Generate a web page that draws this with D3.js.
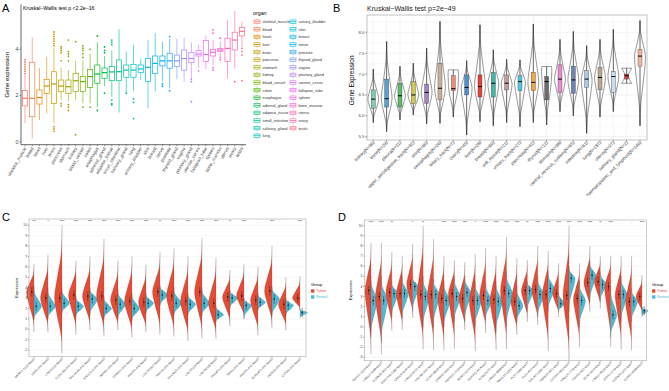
<!DOCTYPE html>
<html><head><meta charset="utf-8">
<script src="https://cdn.jsdelivr.net/npm/d3@7"></script>
<style>body{margin:0;background:#fff}svg{display:block}text{font-family:"Liberation Sans",Arial,sans-serif}</style>
</head><body><svg id="c" width="669" height="391"></svg>
<script>
// ---------------- Panel A data ----------------
const organs=["skeletal_muscle","blood","heart","liver","brain","pancreas","stomach","kidney","blood_vessel","colon","esophagus","adrenal_gland","adipose_tissue","small_intestine","salivary_gland","lung","urinary_bladder","skin","breast","nerve","prostate","thyroid_gland","vagina","pituitary_gland","uterine_cervix","fallopian_tube","spleen","bone_marrow","uterus","ovary","testis"];
const aLo =[0.8,0.14,0.94,1.23,0.8,1.8,1.75,1.8,1.66,1.66,1.5,2.4,1.95,1.26,2.1,2.2,2.67,1.44,2.17,2.6,2.3,2.7,2.6,2.7,3.2,3.15,3.3,3.7,2.74,3.17,4.1];
const aQ1 =[1.55,1.08,1.63,2.09,1.66,2.17,2.09,2.17,2.17,2.35,2.53,2.74,2.64,2.64,2.79,2.79,3.0,2.6,2.96,3.28,3.18,3.25,3.1,3.42,3.71,3.47,3.71,3.9,3.47,3.97,4.58];
const aMed=[1.88,1.88,1.91,2.41,2.5,2.41,2.38,2.64,2.6,2.82,2.93,2.99,3.02,3.03,3.1,3.1,3.15,3.22,3.39,3.5,3.5,3.5,3.6,3.6,3.8,3.78,3.87,3.97,4.04,4.4,4.78];
const aQ3 =[2.21,3.44,2.24,2.7,3.03,2.67,2.67,2.96,2.82,3.13,3.32,3.19,3.25,3.54,3.32,3.35,3.32,3.6,3.71,3.71,3.83,3.75,3.97,3.86,3.94,4.38,4.0,4.04,4.48,4.74,4.94];
const aHi =[2.9,4.52,3.18,3.68,4.05,3.2,3.1,3.5,3.5,3.8,4.3,3.7,3.95,4.87,3.9,4.2,3.6,4.4,4.7,4.33,4.45,4.45,4.5,4.3,4.2,4.6,4.4,4.33,5.27,5.65,5.2];
const aOut=[[2.95,3.05,3.15,3.25,3.35,3.45,3.55],[],[],[],[4.15,4.25,4.35,4.45,4.55,4.65,4.75,0.45,0.55,0.65],[3.85,3.95,4.05,4.12,3.5,1.55,1.65],[4.4,3.9,3.8,3.7,3.5,1.35,1.5,1.6],[4.33,0.3],[4.15,4.05,3.95,3.8,3.65,1.5],[4.0,1.5],[4.58,1.35],[4.1,3.95,3.85,2.1],[4.4,4.3,4.2,1.8,1.65,1.6],[],[2.1],[1.85,1.7,1.0],[],[],[],[2.5,2.4],[4.55,2.2],[],[],[2.7,2.6,1.73],[3.07],[],[4.84,4.7,3.2,3.1],[4.48,3.65,3.55],[],[2.6],[4.04,3.9,3.75,2.64]];
const aYTicks=[0,2,4];

// ---------------- Panel B data ----------------
const bCats=["kidney(N=36)","bone(N=29)","pleura(N=11)","upper_aerodigestive_tract(N=32)","skin(N=60)","oesophagus(N=26)","biliary_tract(N=7)","ovary(N=45)","liver(N=28)","breast(N=60)","soft_tissue(N=21)","urinary_tract(N=27)","pancreas(N=42)","thyroid(N=12)","stomach(N=38)","central_nervous_system(N=65)","intestine(N=61)","lung(N=187)","uterus(N=27)","salivary_gland(N=2)","haematopoietic_and_lymphoid(N=140)"];
const bMin=[5.84,5.62,5.90,6.02,5.81,5.82,5.97,5.54,5.86,5.76,5.84,5.74,5.84,5.78,6.10,6.00,5.58,5.97,6.10,6.78,5.76];
const bQ1 =[6.18,6.21,6.21,6.29,6.30,6.38,6.60,6.50,6.45,6.45,6.62,6.60,6.60,6.38,6.56,6.54,6.68,6.62,6.56,6.88,7.19];
const bMed=[6.40,6.41,6.48,6.50,6.56,6.66,6.65,6.68,6.70,6.78,6.78,6.82,6.80,6.82,6.88,6.86,6.88,6.92,6.94,6.96,7.43];
const bQ3 =[6.62,6.88,6.78,6.82,6.76,7.26,6.96,6.98,6.98,7.04,6.98,6.96,7.04,6.94,7.22,7.19,7.08,7.16,7.06,7.00,7.59];
const bMax=[7.12,7.78,7.19,7.26,7.62,8.26,7.10,7.32,8.18,7.58,7.35,7.34,8.20,7.18,7.83,8.02,7.68,7.83,8.07,7.14,8.28];
const bColors=["#7ccbb3","#5b9fd4","#5dbb6e","#cdc84e","#a283c7","#c6b29c","#f28a78","#4f8fcb","#e3433c","#3cb8a5","#c49c9a","#4ec8d8","#f5a340","#6b6b6b","#e98ccd","#6f86b5","#a9cbe8","#baa794","#c9ddf0","#e03b3b","#f6b3a0"];
const bYTicks=[5.5,6.0,6.5,7.0,7.5,8.0];

// ---------------- Panel C data ----------------
const cGenes=["GMNC1-1233-NeuG","USP2-AS1-NeuG","LINC01133-NeuG","CCDC183-AS1-NeuG","BHLHE40-AS1-NeuG","ERCC6L2-AS1-NeuG","INPP5F-AS1-NeuG","STARD7-AS1-NeuG","PAXIP1-AS2-NeuG","LOC101927-NeuG","HNF1A-AS1-NeuG","MYCNOS-AS1-NeuG","LINC01234-NeuG","LINC00638-NeuG","THCAT1-AS1-NeuG","TMPO-AS1-NeuG","PAXIP1-AS1-NeuG","BLACAT1-AS1-NeuG","ZNF503-AS1-NeuG","CYTOR-AS1-NeuG"];
const cTumor=[[-0.3,6.3,3.6],[-0.3,7.2,3.0],[-2.3,10.0,3.0],[-0.5,6.6,3.3],[-0.1,7.0,3.2],[-0.7,8.7,3.2],[-0.1,6.6,2.8],[-0.8,7.0,2.7],[-0.3,6.2,2.6],[-0.5,7.4,3.6],[-0.7,7.8,3.2],[-1.1,7.0,2.7],[-0.9,8.8,3.6],[-0.9,6.9,2.5],[0.3,5.7,3.1],[1.0,6.3,3.2],[-0.6,6.0,2.8],[0.1,8.0,3.7],[-0.1,5.0,2.4],[1.8,5.1,3.0]];
const cNormal=[[0.9,4.2,2.2],[1.0,4.0,2.2],[1.5,4.0,2.5],[1.2,3.2,2.2],[1.3,4.0,2.9],[1.0,3.2,2.0],[1.0,3.8,2.4],[0.8,3.5,2.0],[1.5,3.5,2.5],[2.2,4.3,3.3],[1.3,4.0,2.5],[1.3,3.5,2.4],[1.3,4.0,2.5],[0.7,2.3,1.4],[2.0,3.8,3.0],[1.0,3.0,2.3],[1.8,3.5,2.6],[1.2,4.2,2.9],[1.3,3.0,2.3],[1.1,2.0,1.6]];
const cSig=["***","*","****","****","****","****","****","****","****","**","****","****","****","****","**","****","-","****",".","****"];
const cYTicks=[-2,-1,0,1,2,3,4,5,6,7,8,9,10];

// ---------------- Panel D data ----------------
const dGenes=["SNHG1-1233-NeuT","LINC01-4398-NeuT","CDKN2B-AS1-NeuT","MIR17HG-1380-NeuG","CASC9-4230-NeuT","LINC00-8721-NeuT","DSCAM-AS1-NeuG","CCAT1-8865-NeuT","CRNDE-4460-NeuT","SNHG16-1723-NeuT","NEAT1-3214-NeuT","HOXA11-AS-NeuG","KCNQ1OT1-NeuT","LINC00-4988-NeuT","SNHG15-2254-NeuG","PVT1-6680-NeuT","DLX6-AS1-NeuT","MALAT1-3387-NeuT","FAM83H-AS1-NeuT","CYTOR-4452-NeuT","HAGLR-7719-NeuT","FOXD2-AS1-NeuT","UCA1-6624-NeuT","LINC01-5530-NeuT","ZFAS1-3779-NeuT","HOTAIR-2261-NeuT","CCAT2-4448-NeuT"];
const dTumor=[[-2.7,8.3,3.6],[-2.7,8.3,3.0],[-0.4,7.4,3.4],[-0.3,7.0,3.3],[0.9,8.2,4.2],[-2.2,10.0,3.2],[-2.3,8.7,3.2],[-2.3,7.0,2.8],[-2.2,6.6,3.3],[-0.3,6.4,2.8],[-2.4,7.2,2.6],[-0.6,7.8,3.1],[-2.3,7.0,2.7],[-2.2,8.9,3.6],[-0.8,6.8,2.5],[0.5,6.6,3.6],[0.2,8.0,3.7],[-2.4,7.5,3.2],[1.0,6.3,3.3],[-3.3,10.0,3.1],[-2.0,6.3,2.8],[1.5,8.0,4.4],[1.8,7.0,4.5],[-2.0,7.0,4.0],[-2.2,7.0,3.2],[-2.3,7.0,2.5],[1.2,5.1,3.0]];
const dNormal=[[-1.0,5.0,2.6],[-1.5,5.0,2.6],[1.0,4.5,3.3],[0.8,5.0,3.3],[1.5,5.0,4.0],[0.0,5.0,3.0],[0.0,4.8,3.2],[0.0,4.5,2.6],[0.5,5.0,3.0],[0.5,5.0,3.4],[0.0,4.5,2.6],[0.7,4.5,2.6],[-0.5,4.5,2.5],[0.0,5.5,3.3],[0.5,4.0,2.1],[1.5,4.5,3.6],[1.0,5.0,3.2],[1.5,5.5,3.8],[1.5,3.5,2.3],[1.5,6.0,4.8],[0.0,4.5,2.6],[2.5,6.5,5.1],[2.5,5.5,4.2],[-1.0,4.0,1.2],[0.5,5.0,3.2],[0.5,3.8,2.5],[1.0,2.0,1.6]];
const dSig=["****","****","**",".","*","**",".","****","****","****","*","****","****","****","****","**","****","****","****","****","****","****","**","****",".",".","****"];
const dYTicks=[-3,-2,-1,0,1,2,3,4,5,6,7,8,9,10];

const groups=["Tumor","Normal"];
const groupColors=["#E64B35","#4DBBD5"];

// ---------- helpers ----------
function hclR(h,c,l){ // R polarLUV -> sRGB hex
  const Xn=95.047,Yn=100,Zn=108.883;
  const un=4*Xn/(Xn+15*Yn+3*Zn), vn=9*Yn/(Xn+15*Yn+3*Zn);
  const hr=h*Math.PI/180, u=c*Math.cos(hr), v=c*Math.sin(hr);
  const Y=l>8?Yn*Math.pow((l+16)/116,3):Yn*l/903.3;
  const up=u/(13*l)+un, vp=v/(13*l)+vn;
  const X=9*Y*up/(4*vp), Z=-X/3-5*Y+3*Y/vp;
  const x=X/100,y=Y/100,z=Z/100;
  let r=3.2404542*x-1.5371385*y-0.4985314*z, g=-0.969266*x+1.8760108*y+0.041556*z, b=0.0556434*x-0.2040259*y+1.0572252*z;
  const gam=t=>{t=t<=0.0031308?12.92*t:1.055*Math.pow(t,1/2.4)-0.055;return Math.max(0,Math.min(1,t));};
  return d3.rgb(gam(r)*255,gam(g)*255,gam(b)*255).formatHex();
}
const svg=d3.select("#c");
svg.append("rect").attr("width",669).attr("height",391).attr("fill","#fff");
function letter(t,x,y){svg.append("text").attr("x",x).attr("y",y).attr("font-size",11).attr("fill","#000").text(t);}

// ================= Panel A =================
{
  const g=svg.append("g");
  const x=d3.scalePoint().domain(organs).range([25,242]);
  const y=d3.scaleLinear().domain([0,4]).range([141.7,49.3]);
  const hues=organs.map((o,i)=>15+i*360/31);
  const col=hues.map(h=>hclR(h,100,65));
  const bw=5.2;
  g.append("line").attr("x1",21).attr("x2",21).attr("y1",y(5.95)).attr("y2",y(-0.13)).attr("stroke","#000").attr("stroke-width",0.6);
  g.append("line").attr("x1",21).attr("x2",246).attr("y1",y(-0.13)).attr("y2",y(-0.13)).attr("stroke","#000").attr("stroke-width",0.6);
  aYTicks.forEach(t=>{
    g.append("line").attr("x1",19.5).attr("x2",21).attr("y1",y(t)).attr("y2",y(t)).attr("stroke","#333").attr("stroke-width",0.5);
    g.append("text").attr("x",18.5).attr("y",y(t)+1.8).attr("text-anchor","end").attr("font-size",5.5).attr("fill","#4d4d4d").text(t);
  });
  g.append("text").attr("transform",`translate(9,${y(2.9)}) rotate(-90)`).attr("text-anchor","middle").attr("font-size",6).text("Gene expression");
  g.append("text").attr("x",23).attr("y",9.5).attr("font-size",5.2).text("Kruskal\u2212Wallis test p <2.2e\u221216");
  organs.forEach((o,i)=>{
    const cx=x(o), c=col[i];
    g.append("line").attr("x1",cx).attr("x2",cx).attr("y1",y(aHi[i])).attr("y2",y(aQ3[i])).attr("stroke",c).attr("stroke-width",0.6);
    g.append("line").attr("x1",cx).attr("x2",cx).attr("y1",y(aQ1[i])).attr("y2",y(aLo[i])).attr("stroke",c).attr("stroke-width",0.6);
    g.append("rect").attr("x",cx-bw/2).attr("y",y(aQ3[i])).attr("width",bw).attr("height",y(aQ1[i])-y(aQ3[i])).attr("fill","#fff").attr("stroke",c).attr("stroke-width",0.7);
    g.append("line").attr("x1",cx-bw/2).attr("x2",cx+bw/2).attr("y1",y(aMed[i])).attr("y2",y(aMed[i])).attr("stroke",c).attr("stroke-width",1.2);
    aOut[i].forEach(v=>g.append("circle").attr("cx",cx).attr("cy",y(v)).attr("r",0.9).attr("fill",c));
    g.append("line").attr("x1",cx).attr("x2",cx).attr("y1",y(-0.13)).attr("y2",y(-0.13)+1.5).attr("stroke","#333").attr("stroke-width",0.5);
    g.append("text").attr("transform",`translate(${cx+1.5},${y(-0.13)+3.5}) rotate(-60)`).attr("text-anchor","end").attr("font-size",4.6).attr("fill","#4d4d4d").text(o);
  });
  const lg=g.append("g");
  lg.append("text").attr("x",253).attr("y",15).attr("font-size",5.3).text("organ");
  organs.forEach((o,i)=>{
    const colIdx=i<16?0:1, row=i<16?i:i-16;
    const kx=colIdx?290:254, ky=21.7+row*7.6;
    lg.append("line").attr("x1",kx+3).attr("x2",kx+3).attr("y1",ky-3).attr("y2",ky+3).attr("stroke",col[i]).attr("stroke-width",0.5);
    lg.append("rect").attr("x",kx).attr("y",ky-1.7).attr("width",6).attr("height",3.4).attr("fill","#fff").attr("stroke",col[i]).attr("stroke-width",0.6);
    lg.append("line").attr("x1",kx).attr("x2",kx+6).attr("y1",ky).attr("y2",ky).attr("stroke",col[i]).attr("stroke-width",0.8);
    lg.append("text").attr("x",kx+8.5).attr("y",ky+1.5).attr("font-size",3.9).attr("fill","#333").text(o);
  });
  letter("A",2,12);
}

// ================= Panel B =================
{
  const g=svg.append("g");
  const L=367,R=647,T=15,B=140;
  const x=d3.scalePoint().domain(bCats).range([373.3,640]);
  const y=d3.scaleLinear().domain([5.5,8.0]).range([136.7,32.3]);
  g.append("rect").attr("x",L).attr("y",T).attr("width",R-L).attr("height",B-T).attr("fill","#fff");
  d3.range(5.25,8.5,0.25).forEach(v=>{ if(y(v)>T&&y(v)<B) g.append("line").attr("x1",L).attr("x2",R).attr("y1",y(v)).attr("y2",y(v)).attr("stroke",Math.abs(v*2-Math.round(v*2))<1e-6?"#e6e6e6":"#f3f3f3").attr("stroke-width",0.5);});
  bCats.forEach(c=>g.append("line").attr("x1",x(c)).attr("x2",x(c)).attr("y1",T).attr("y2",B).attr("stroke","#e6e6e6").attr("stroke-width",0.5));
  const hw=5.4;
  const line=d3.line().curve(d3.curveCatmullRom.alpha(0.5));
  bCats.forEach((c,i)=>{
    const cx=x(c), lo=bMin[i], hi=bMax[i], pk=bMed[i];
    let prof;
    if(i===19){ prof=[[lo,0.95],[pk,0.3],[hi,0.95]]; }
    else if(i===6||i===13){ prof=[[lo,0],[lo+0.35*(pk-lo),0.18],[lo+0.75*(pk-lo),0.65],[pk,0.85],[hi-0.06,0.95],[hi,0.9]]; }
    else prof=[[lo,0],[lo+0.3*(pk-lo),0.14],[lo+0.7*(pk-lo),0.7],[pk,1],[pk+0.3*(hi-pk),0.62],[pk+0.65*(hi-pk),0.14],[hi,0]];
    const right=prof.map(p=>[cx+p[1]*hw,y(p[0])]);
    const left=prof.slice().reverse().map(p=>[cx-p[1]*hw,y(p[0])]);
    let d=line(right)+"L"+line(left).slice(1)+"Z";
    g.append("path").attr("d",d).attr("fill","#fff").attr("stroke","#444").attr("stroke-width",0.55);
    g.append("line").attr("x1",cx).attr("x2",cx).attr("y1",y(hi)).attr("y2",y(lo)).attr("stroke","#222").attr("stroke-width",0.7);
    g.append("rect").attr("x",cx-2).attr("y",y(bQ3[i])).attr("width",4).attr("height",y(bQ1[i])-y(bQ3[i])).attr("fill",bColors[i]).attr("stroke","#333").attr("stroke-width",0.35);
    g.append("line").attr("x1",cx-2).attr("x2",cx+2).attr("y1",y(bMed[i])).attr("y2",y(bMed[i])).attr("stroke","#000").attr("stroke-width",1);
    g.append("line").attr("x1",cx).attr("x2",cx).attr("y1",B).attr("y2",B+1.5).attr("stroke","#333").attr("stroke-width",0.5);
    g.append("text").attr("transform",`translate(${cx+1.5},${B+3}) rotate(-45)`).attr("text-anchor","end").attr("font-size",4.4).attr("font-family","Liberation Serif").attr("fill","#333").text(c);
  });
  g.append("rect").attr("x",L).attr("y",T).attr("width",R-L).attr("height",B-T).attr("fill","none").attr("stroke","#999").attr("stroke-width",0.6);
  bYTicks.forEach(t=>{
    g.append("line").attr("x1",L-1.5).attr("x2",L).attr("y1",y(t)).attr("y2",y(t)).attr("stroke","#333").attr("stroke-width",0.5);
    g.append("text").attr("x",L-2.5).attr("y",y(t)+1.5).attr("text-anchor","end").attr("font-size",4.4).attr("fill","#4d4d4d").text(t.toFixed(1));
  });
  g.append("text").attr("transform",`translate(354,${y(6.85)}) rotate(-90)`).attr("text-anchor","middle").attr("font-size",6.5).attr("font-family","Liberation Serif").text("Gene Expression");
  g.append("text").attr("x",367).attr("y",11).attr("font-size",7).attr("fill","#222").text("Kruskal\u2212Wallis test p=2e\u221249");
  letter("B",333,12);
}

// ================= Panels C & D (split violins) =================
function splitPanel(o){
  const g=svg.append("g");
  const {L,R,T,B,genes,tum,nor,sig,ticks,y,xr,hw}=o;
  const x=d3.scalePoint().domain(genes).range(xr);
  g.append("rect").attr("x",L).attr("y",T).attr("width",R-L).attr("height",B-T).attr("fill","#fff");
  ticks.forEach(t=>g.append("line").attr("x1",L).attr("x2",R).attr("y1",y(t)).attr("y2",y(t)).attr("stroke","#ececec").attr("stroke-width",0.45));
  const line=d3.line().curve(d3.curveCatmullRom.alpha(0.5));
  function half(cx,d,side,color){
    const [lo,hi,pk]=d;
    const prof=[[lo,0],[lo+0.3*(pk-lo),0.1],[lo+0.7*(pk-lo),0.68],[pk,1],[pk+0.3*(hi-pk),0.6],[pk+0.62*(hi-pk),0.1],[hi,0]];
    const pts=prof.map(p=>[cx+side*p[1]*hw,y(p[0])]);
    const dpath=line(pts)+`L${cx},${y(hi)}Z`;
    g.append("path").attr("d",dpath).attr("fill",color).attr("stroke","#333").attr("stroke-width",0.25).attr("stroke-opacity",0.6);
  }
  genes.forEach((gn,i)=>{
    const cx=x(gn);
    half(cx,tum[i],-1,groupColors[0]);
    half(cx,nor[i],1,groupColors[1]);
    [[tum[i],-2.2],[nor[i],2.2]].forEach(([d,off])=>{
      const m=d[2];
      g.append("line").attr("x1",cx+off).attr("x2",cx+off).attr("y1",y(m+0.45)).attr("y2",y(m-0.45)).attr("stroke","#111").attr("stroke-width",0.4);
      g.append("circle").attr("cx",cx+off).attr("cy",y(m)).attr("r",0.75).attr("fill","#111");
    });
    g.append("text").attr("x",cx).attr("y",T+3.5).attr("text-anchor","middle").attr("font-size",3).attr("fill","#333").text(sig[i]);
    g.append("line").attr("x1",cx).attr("x2",cx).attr("y1",B).attr("y2",B+1.2).attr("stroke","#333").attr("stroke-width",0.4);
    g.append("text").attr("transform",`translate(${cx+1},${B+2.5}) rotate(-45)`).attr("text-anchor","end").attr("font-size",3).attr("fill","#444").text(gn);
  });
  g.append("rect").attr("x",L).attr("y",T).attr("width",R-L).attr("height",B-T).attr("fill","none").attr("stroke","#aaa").attr("stroke-width",0.6);
  ticks.forEach(t=>{
    g.append("line").attr("x1",L-1.2).attr("x2",L).attr("y1",y(t)).attr("y2",y(t)).attr("stroke","#333").attr("stroke-width",0.4);
    g.append("text").attr("x",L-2).attr("y",y(t)+1.1).attr("text-anchor","end").attr("font-size",3.3).attr("fill","#444").text(t);
  });
  g.append("text").attr("transform",`translate(${o.ylabX},${(T+B)/2}) rotate(-90)`).attr("text-anchor","middle").attr("font-size",4).text("Expression");
  const lx=o.legX;
  g.append("text").attr("x",lx).attr("y",286).attr("font-size",4).text("Group");
  groups.forEach((gr,k)=>{
    g.append("rect").attr("x",lx).attr("y",289.3+k*6).attr("width",3.4).attr("height",3.4).attr("fill",groupColors[k]);
    g.append("text").attr("x",lx+5).attr("y",292.2+k*6).attr("font-size",3.6).attr("fill",groupColors[k]).text(gr);
  });
}
splitPanel({L:29,R:306,T:219,B:356.7,genes:cGenes,tum:cTumor,nor:cNormal,sig:cSig,ticks:cYTicks,
  y:d3.scaleLinear().domain([-2,10]).range([350,225.3]),xr:[34,300],hw:7.5,ylabX:18,legX:311});
letter("C",2,221);
splitPanel({L:364.3,R:646.7,T:220,B:360.7,genes:dGenes,tum:dTumor,nor:dNormal,sig:dSig,ticks:dYTicks,
  y:d3.scaleLinear().domain([-3,10]).range([357.3,225.7]),xr:[371,642],hw:6,ylabX:352,legX:652});
letter("D",338,221);
</script></body></html>
